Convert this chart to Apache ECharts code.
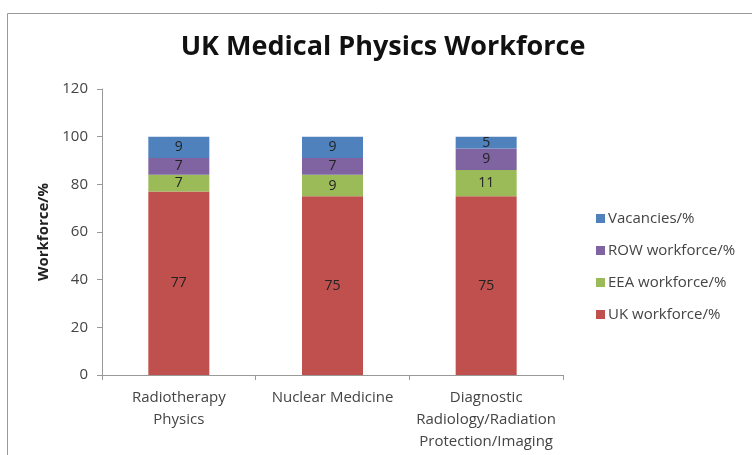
<!DOCTYPE html>
<html>
<head>
<meta charset="utf-8">
<script src="https://cdn.jsdelivr.net/npm/echarts@6/dist/echarts.min.js"></script>
<style>html,body{margin:0;padding:0;background:#fff}#c{width:752px;height:455px}</style>
</head>
<body>
<div id="c"></div>
<script>
const categories = ['Radiotherapy\nPhysics', 'Nuclear Medicine', 'Diagnostic\nRadiology/Radiation\nProtection/Imaging'];
const ukWorkforce = [77, 75, 75];
const eeaWorkforce = [7, 9, 11];
const rowWorkforce = [7, 7, 9];
const vacancies = [9, 9, 5];
const yTicks = { min: 0, max: 120, interval: 20 };

const font = '"Open Sans", "Liberation Sans", sans-serif';
const chart = echarts.init(document.getElementById('c'), null, { renderer: 'canvas' });
function s(name, data, color) {
  return {
    name, type: 'bar', stack: 'total', data, barWidth: 61,
    itemStyle: { color },
    label: { show: true, position: 'inside', color: '#222', fontFamily: font, fontSize: 14 }
  };
}
chart.setOption({
  animation: false,
  backgroundColor: '#fff',
  graphic: [{ type: 'rect', shape: { x: 7.5, y: 13.5, width: 800, height: 500 }, style: { fill: 'none', stroke: '#9a9a9a', lineWidth: 1 }, z: -1 }],
  title: { text: 'UK Medical Physics Workforce', left: 378, top: 29, textAlign: 'center',
    textStyle: { fontFamily: font, fontSize: 27, fontWeight: 'bold', color: '#111' } },
  grid: { left: 102, right: 189, top: 89, bottom: 80 },
  legend: {
    orient: 'vertical', left: 591, top: 206, itemGap: 17, itemWidth: 9, itemHeight: 9, icon: 'rect',
    data: ['Vacancies/%', 'ROW workforce/%', 'EEA workforce/%', 'UK workforce/%'],
    textStyle: { fontFamily: font, fontSize: 15, color: '#444', padding: [0, 0, 0, -2] }
  },
  xAxis: {
    type: 'category', data: categories,
    axisLine: { lineStyle: { color: '#999' } },
    axisTick: { show: true, alignWithLabel: false, length: 5, lineStyle: { color: '#999' } },
    axisLabel: { fontFamily: font, fontSize: 15, color: '#444', margin: 12, lineHeight: 22, interval: 0 }
  },
  yAxis: {
    type: 'value', min: yTicks.min, max: yTicks.max, interval: yTicks.interval,
    name: 'Workforce/%', nameLocation: 'middle', nameGap: 50, nameRotate: 90,
    nameTextStyle: { fontFamily: font, fontSize: 15, fontWeight: 'bold', color: '#222' },
    axisLine: { show: true, lineStyle: { color: '#999' } },
    axisTick: { show: true, length: 5, lineStyle: { color: '#999' } },
    splitLine: { show: false },
    axisLabel: { fontFamily: font, fontSize: 15, color: '#444', margin: 14 }
  },
  series: [
    s('UK workforce/%', ukWorkforce, '#C0504D'),
    s('EEA workforce/%', eeaWorkforce, '#9BBB59'),
    s('ROW workforce/%', rowWorkforce, '#8064A2'),
    s('Vacancies/%', vacancies, '#4F81BD')
  ]
});
</script>
</body>
</html>
